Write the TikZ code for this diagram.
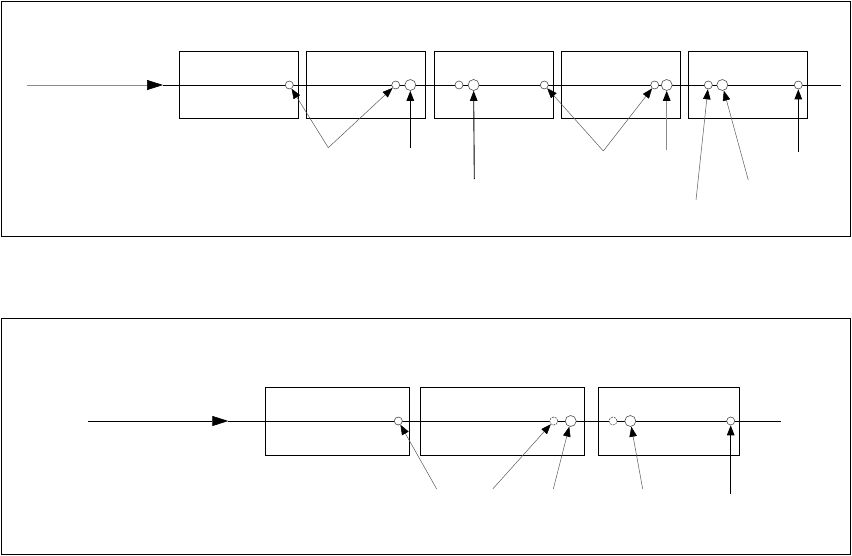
\documentclass[tikz,border=0pt]{standalone}
\usetikzlibrary{arrows.meta}
\begin{document}
\begin{tikzpicture}[x=1pt,y=-1pt,
  frame/.style={draw=black, line width=1pt},
  blk/.style={draw=black, line width=0.9pt, rectangle, inner sep=0pt},
  mainline/.style={draw=black, line width=0.9pt},
  inarrow/.style={line width=0.6pt, -{Triangle[length=16pt,width=10pt,color=black]}},
  sc/.style={circle, draw=black!70, fill=white, line width=0.6pt, minimum size=8pt, inner sep=0pt},
  bc/.style={sc, minimum size=11pt},
  dc/.style={sc, dash pattern=on 2pt off 1pt},
  thinarr/.style={draw=black!65, line width=0.5pt, -{Triangle[length=10pt,width=7.5pt,color=black]}},
  greyarr/.style={draw=black!45, line width=0.9pt, -{Triangle[length=10pt,width=7.5pt,color=black]}},
  blkarr/.style={draw=black, line width=0.9pt, -{Triangle[length=10pt,width=7.5pt,color=black]}}
]
\useasboundingbox (0,0) rectangle (852,555);
% frames
\draw[frame] (1,1) rectangle (850,236);
\draw[frame] (1,318) rectangle (850,554);

% ---------- top diagram ----------
\node[blk, minimum width=119pt, minimum height=66.7pt] (t1) at (238.8,84.7) {};
\node[blk, minimum width=119pt, minimum height=66.7pt] (t2) at (366,84.7) {};
\node[blk, minimum width=119pt, minimum height=66.7pt] (t3) at (493.8,84.7) {};
\node[blk, minimum width=119pt, minimum height=66.7pt] (t4) at (620.8,84.7) {};
\node[blk, minimum width=119pt, minimum height=66.7pt] (t5) at (747.8,84.7) {};

\coordinate (tin) at (27,85);
\coordinate (tarr) at (163,85);
\coordinate (tend) at (841,85);
\draw[inarrow, draw=black!45] (tin) -- (tarr);
\draw[mainline] (tarr) -- (tend);

\node[sc] (tc1) at (289.3,85) {};
\node[sc] (tc2) at (395.7,85) {};
\node[bc] (tc3) at (410.3,85) {};
\node[sc] (tc4) at (459,85) {};
\node[bc] (tc5) at (473.6,85) {};
\node[sc] (tc6) at (544.3,85) {};
\node[sc] (tc7) at (654.7,85) {};
\node[bc] (tc8) at (666.7,85) {};
\node[sc] (tc9) at (708.3,85) {};
\node[bc] (tc10) at (722.3,85) {};
\node[sc] (tc11) at (798.3,85) {};

\coordinate (tv1) at (328.3,147.7);
\coordinate (tv2) at (410.3,147.7);
\coordinate (tv3) at (474.3,179);
\coordinate (tv4) at (603.3,151);
\coordinate (tv5) at (666.7,150);
\coordinate (tv6) at (696,200);
\coordinate (tv7) at (748.3,180);
\coordinate (tv8) at (798.3,151.7);

\draw[thinarr] (tv1) -- (tc1);
\draw[thinarr] (tv1) -- (tc2);
\draw[blkarr] (tv2) -- (tc3);
\draw[blkarr] (tv3) -- (tc5);
\draw[thinarr] (tv4) -- (tc6);
\draw[thinarr] (tv4) -- (tc7);
\draw[greyarr] (tv5) -- (tc8);
\draw[thinarr] (tv6) -- (tc9);
\draw[thinarr] (tv7) -- (tc10);
\draw[blkarr] (tv8) -- (tc11);

% ---------- bottom diagram ----------
\node[blk, minimum width=144pt, minimum height=68pt] (b1) at (337.3,421.3) {};
\node[blk, minimum width=163.6pt, minimum height=68pt] (b2) at (502.5,421.3) {};
\node[blk, minimum width=140.6pt, minimum height=68pt] (b3) at (669,421.3) {};

\coordinate (bin) at (88,421);
\coordinate (barr) at (228.3,421);
\coordinate (bend) at (780.7,421);
\draw[inarrow, draw=black] (bin) -- (barr);
\draw[mainline] (barr) -- (bend);

\node[sc] (bc1) at (398.3,421) {};
\node[dc] (bc2) at (553.7,421) {};
\node[bc] (bc3) at (570.7,421) {};
\node[dc] (bc4) at (613,421) {};
\node[bc] (bc5) at (630.3,421) {};
\node[sc] (bc6) at (730.7,421) {};

\coordinate (bv1) at (436.7,489);
\coordinate (bv2) at (492.7,489);
\coordinate (bv3) at (553.3,489);
\coordinate (bv4) at (642.7,489);
\coordinate (bv5) at (730.7,494);

\draw[thinarr] (bv1) -- (bc1);
\draw[thinarr] (bv2) -- (bc2);
\draw[thinarr] (bv3) -- (bc3);
\draw[thinarr] (bv4) -- (bc5);
\draw[blkarr] (bv5) -- (bc6);
\end{tikzpicture}
\end{document}
